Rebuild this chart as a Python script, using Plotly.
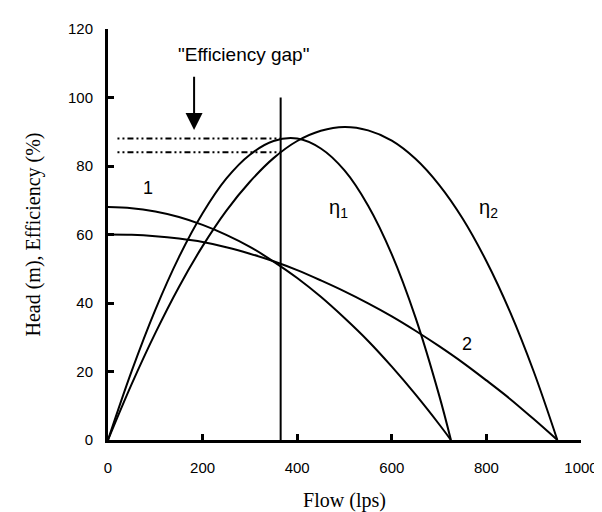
import plotly.graph_objects as go

# Flow values (lps) and curves
flow_h1 = [0, 50, 100, 150, 200, 250, 300, 350, 400, 450, 500, 550, 600, 650, 700, 725]
head_1 = [68.0, 67.7, 66.7, 65.1, 62.8, 59.9, 56.4, 52.1, 47.3, 41.8, 35.6, 28.9, 21.4, 13.3, 4.6, 0.0]

flow_h2 = [0, 50, 100, 150, 200, 250, 300, 350, 400, 450, 500, 550, 600, 650, 700, 750, 800, 850, 900, 950]
head_2 = [60.0, 59.9, 59.5, 58.8, 57.8, 56.3, 54.4, 52.2, 49.6, 46.6, 43.4, 39.9, 36.1, 31.9, 27.4, 22.6, 17.4, 12.0, 6.1, 0.0]

flow_e1 = [0, 50, 100, 150, 200, 250, 300, 350, 400, 450, 500, 550, 600, 650, 700, 725]
eff_1 = [0.0, 20.1, 38.0, 53.4, 66.2, 76.3, 83.3, 87.3, 88.0, 85.1, 78.7, 68.4, 54.2, 35.8, 13.1, 0.0]

flow_e2 = [0, 50, 100, 150, 200, 250, 300, 350, 400, 450, 500, 550, 600, 650, 700, 750, 800, 850, 900, 950]
eff_2 = [0.0, 16.3, 31.2, 44.7, 56.6, 66.9, 75.4, 82.3, 87.3, 90.3, 91.4, 90.4, 87.4, 82.1, 74.5, 64.6, 52.2, 37.4, 20.0, 0.0]

# Operating point and efficiency-gap levels
op_flow = 365
op_top = 100
gap_x = [20, 365]
gap_hi = 88.0
gap_lo = 84.0

x_ticks = [0, 200, 400, 600, 800, 1000]
y_ticks = [0, 20, 40, 60, 80, 100, 120]

fig = go.Figure()
line = dict(color="black", width=2)
for xs, ys in [(flow_h1, head_1), (flow_h2, head_2), (flow_e1, eff_1), (flow_e2, eff_2)]:
    fig.add_trace(go.Scatter(x=xs, y=ys, mode="lines", line=dict(line, shape="spline", smoothing=1.0),
                             showlegend=False, hoverinfo="skip"))

fig.add_trace(go.Scatter(x=[op_flow, op_flow], y=[0, op_top], mode="lines",
                         line=dict(color="black", width=2), showlegend=False))
for lvl in (gap_hi, gap_lo):
    fig.add_trace(go.Scatter(x=gap_x, y=[lvl, lvl], mode="lines",
                             line=dict(color="black", width=2, dash="2px,3px,2px,3px,6px,3px"),
                             showlegend=False))

sans = "Liberation Sans, Arial, sans-serif"
serif = "Liberation Serif, Times New Roman, serif"

annots = [
    dict(x=286, y=112.5, text='"Efficiency gap"', size=19),
    dict(x=85, y=73.5, text="1", size=18),
    dict(x=760, y=28, text="2", size=18),
    dict(x=487, y=67.5, text="η<sub>1</sub>", size=20),
    dict(x=804, y=67.5, text="η<sub>2</sub>", size=20),
]
for a in annots:
    fig.add_annotation(x=a["x"], y=a["y"], text=a["text"], showarrow=False,
                       font=dict(family=sans, color="black", size=a["size"]))

fig.add_annotation(x=182, y=90.5, ax=182, ay=106.5, axref="x", ayref="y", text="",
                   showarrow=True, arrowhead=2, arrowsize=1.7, arrowwidth=2, arrowcolor="black")

fig.update_layout(
    width=602, height=512,
    margin=dict(l=100, r=28, t=17, b=79),
    paper_bgcolor="white", plot_bgcolor="white",
    font=dict(family=sans, color="black", size=15),
)
fig.update_xaxes(range=[0, 1000], tickvals=x_ticks, showgrid=False, zeroline=False,
                 showline=True, linecolor="black", linewidth=3,
                 ticks="inside", ticklen=6, tickwidth=3, tickcolor="black",
                 ticklabelstandoff=12,
                 title=dict(text="Flow (lps)", font=dict(family=serif, size=20), standoff=18))
fig.update_yaxes(range=[0, 120], tickvals=y_ticks, showgrid=False, zeroline=False,
                 showline=True, linecolor="black", linewidth=3,
                 ticks="inside", ticklen=6, tickwidth=3, tickcolor="black",
                 ticklabelstandoff=9,
                 title=dict(text="Head (m), Efficiency (%)", font=dict(family=serif, size=20), standoff=22))

fig.write_html("out.html")
